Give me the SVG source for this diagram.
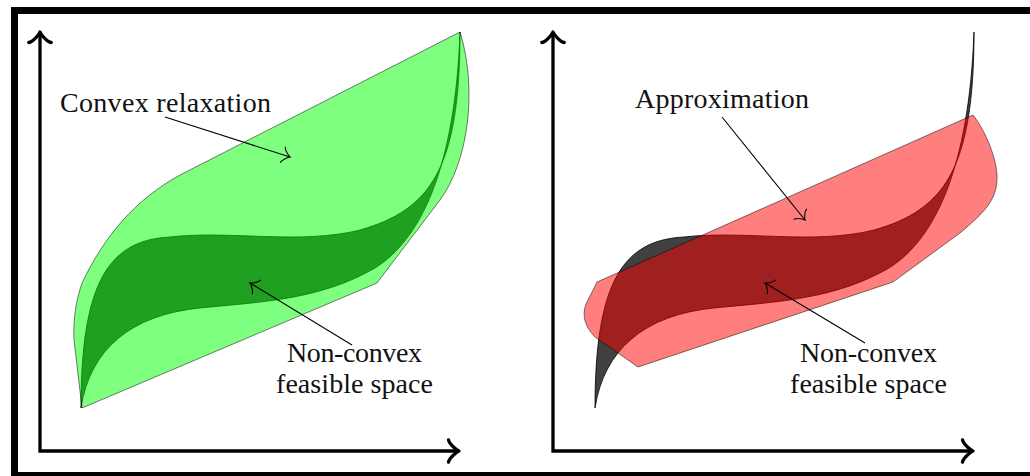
<svg xmlns="http://www.w3.org/2000/svg" width="1030" height="476" viewBox="0 0 1030 476">
  <style>
    .axis { fill: none; stroke: #000; stroke-width: 3.3; marker-start: url(#axhead-s); marker-end: url(#axhead); }
    .nc { fill: #000; fill-opacity: 0.75; stroke: #000; stroke-width: 0.8; }
    .cvx { fill: #00ff00; fill-opacity: 0.5; stroke: #000; stroke-opacity: 0.5; stroke-width: 1; }
    .apx { fill: #ff0000; fill-opacity: 0.5; stroke: #000; stroke-opacity: 0.5; stroke-width: 1; }
    .lbl { font-family: "Liberation Serif", "DejaVu Serif", serif; font-size: 28px; fill: #111; }
    .conn { fill: none; stroke: #000; stroke-width: 1.1; marker-end: url(#thinhead); }
  </style>
  <defs>
    <marker id="axhead" markerUnits="userSpaceOnUse" markerWidth="30" markerHeight="30" refX="0" refY="0" viewBox="-15 -15 30 30" orient="auto" overflow="visible">
      <path d="M-10.5,-11.2 C-9.8,-7 -2.1,-0.7 0,0 C-2.1,0.7 -9.8,7 -10.5,11.2" fill="none" stroke="#000" stroke-width="3.3" stroke-linecap="round" stroke-linejoin="round"/>
    </marker>
    <marker id="axhead-s" markerUnits="userSpaceOnUse" markerWidth="30" markerHeight="30" refX="0" refY="0" viewBox="-15 -15 30 30" orient="auto-start-reverse" overflow="visible">
      <path d="M-10.5,-11.2 C-9.8,-7 -2.1,-0.7 0,0 C-2.1,0.7 -9.8,7 -10.5,11.2" fill="none" stroke="#000" stroke-width="3.3" stroke-linecap="round" stroke-linejoin="round"/>
    </marker>
    <marker id="thinhead" markerUnits="userSpaceOnUse" markerWidth="20" markerHeight="20" refX="0" refY="0" viewBox="-10 -10 20 20" orient="auto" overflow="visible">
      <path d="M-7.5,-8 C-7,-5 -1.5,-0.5 0,0 C-1.5,0.5 -7,5 -7.5,8" fill="none" stroke="#000" stroke-width="1.1" stroke-linecap="round"/>
    </marker>
  </defs>
  <rect width="1030" height="476" fill="#fff"/>
  <g id="frame">
    <rect x="14.5" y="10.5" width="1040" height="465" fill="none" stroke="#000" stroke-width="7"/>
  </g>

  <g id="left-axes">
    <path class="axis" d="M40,32 V451 H459"/>
  </g>
  <g id="left-nonconvex">
    <path class="nc" d="M81,408 C81,280 110,240 170,237 C230,230 300,245 360,230 C430,210 460,170 460,32 C455,170 420,240 375,268 C320,300 260,302 200,308 C130,315 90,350 81,408 Z"/>
  </g>
  <g id="left-convex-relaxation">
    <path class="cvx" d="M82,408 L377,283 L440,200 C468,162 478,90 460,32 L180,175 C135,200 105,235 82,283 C76,300 73,320 74,340 Z"/>
  </g>
  <g id="label-convex-relaxation">
    <text class="lbl" x="60" y="112" textLength="211">Convex relaxation</text>
  </g>
  <g id="label-left-nonconvex">
    <text class="lbl" x="287" y="362" textLength="135">Non-convex</text>
    <text class="lbl" x="276" y="393" textLength="157">feasible space</text>
  </g>

  <g id="right-axes">
    <path class="axis" d="M553,32 V451 H973"/>
  </g>
  <g id="right-nonconvex" transform="translate(514,0)">
    <path class="nc" d="M81,408 C81,280 110,240 170,237 C230,230 300,245 360,230 C430,210 460,170 460,32 C455,170 420,240 375,268 C320,300 260,302 200,308 C130,315 90,350 81,408 Z"/>
  </g>
  <g id="right-approximation">
    <path class="apx" d="M597,282 L973,115 C985,130 998,160 997,180 C996,200 985,212 960,233 L893,282 L638,367 L595,337 C583,325 582,312 587,302 Z"/>
  </g>
  <g id="label-approximation">
    <text class="lbl" x="635" y="108" textLength="174">Approximation</text>
  </g>
  <g id="label-right-nonconvex">
    <text class="lbl" x="800" y="362" textLength="137">Non-convex</text>
    <text class="lbl" x="790" y="393" textLength="157">feasible space</text>
  </g>

  <g id="connectors">
    <path class="conn" d="M165,117 L290,157"/>
    <path class="conn" d="M352,345 L250,283"/>
    <path class="conn" d="M722,117 L805,220"/>
    <path class="conn" d="M865,343 L765,283"/>
  </g>
</svg>
